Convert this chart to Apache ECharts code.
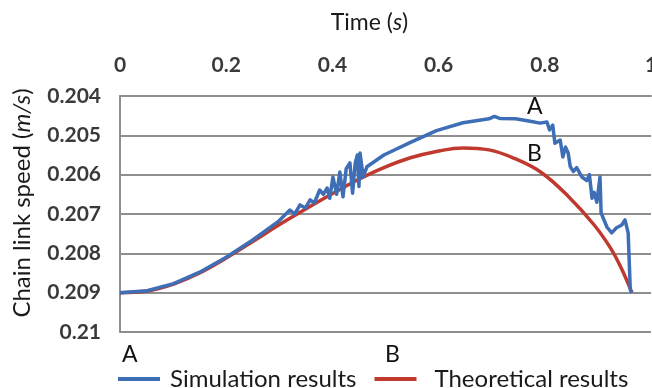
<!DOCTYPE html>
<html>
<head>
<meta charset="utf-8">
<script src="https://cdn.jsdelivr.net/npm/echarts@6/dist/echarts.min.js"></script>
<style>
  html, body { margin: 0; padding: 0; background: #fff; }
  #chart { width: 652px; height: 388px; }
</style>
</head>
<body>
<div id="chart"></div>
<script>
// Time (s) and chain link speed (m/s) samples
var simTime = [0, 0.051, 0.101, 0.150, 0.200, 0.250, 0.299, 0.320, 0.329, 0.339, 0.349, 0.358, 0.366, 0.376, 0.383, 0.390, 0.395, 0.401, 0.408, 0.414, 0.420, 0.426, 0.433, 0.438, 0.443, 0.447, 0.450, 0.452, 0.458, 0.465, 0.497, 0.547, 0.596, 0.646, 0.695, 0.705, 0.715, 0.745, 0.775, 0.791, 0.804, 0.809, 0.815, 0.819, 0.829, 0.834, 0.839, 0.844, 0.848, 0.854, 0.860, 0.870, 0.879, 0.884, 0.889, 0.893, 0.898, 0.904, 0.906, 0.917, 0.926, 0.935, 0.945, 0.951, 0.957, 0.961, 0.964];
var simSpeed = [0.2090, 0.20895, 0.20877, 0.20848, 0.20810, 0.20766, 0.20718, 0.20690, 0.20700, 0.20677, 0.20685, 0.20664, 0.20672, 0.20639, 0.20650, 0.20634, 0.20660, 0.20606, 0.20650, 0.20593, 0.20656, 0.20585, 0.20570, 0.20647, 0.20570, 0.20550, 0.20630, 0.20545, 0.20606, 0.20580, 0.20550, 0.20518, 0.20488, 0.20468, 0.20458, 0.20452, 0.20457, 0.20458, 0.20465, 0.20469, 0.20466, 0.20486, 0.20474, 0.20520, 0.20512, 0.20555, 0.20530, 0.20545, 0.20580, 0.20592, 0.20582, 0.20606, 0.20615, 0.20600, 0.20660, 0.20645, 0.20670, 0.20606, 0.20697, 0.20733, 0.20748, 0.20735, 0.20728, 0.20715, 0.20748, 0.20893, 0.20900];

var theoTime = [0, 0.051, 0.101, 0.150, 0.200, 0.250, 0.299, 0.349, 0.398, 0.448, 0.497, 0.547, 0.596, 0.646, 0.695, 0.745, 0.794, 0.844, 0.893, 0.923, 0.943, 0.964];
var theoSpeed = [0.2090, 0.20896, 0.20878, 0.20850, 0.20812, 0.20770, 0.20728, 0.20688, 0.20650, 0.20613, 0.20582, 0.20557, 0.20541, 0.20532, 0.20537, 0.20560, 0.20595, 0.20655, 0.20728, 0.20785, 0.20835, 0.20900];

var timeTicks = [0, 0.2, 0.4, 0.6, 0.8, 1];
var speedTicks = [0.204, 0.205, 0.206, 0.207, 0.208, 0.209, 0.21];

var seriesNames = ['Simulation results', 'Theoretical results'];
var markLetters = ['A', 'B'];

function pairs(xs, ys) {
  return xs.map(function (x, i) { return [x, ys[i]]; });
}

var font = 'Lato, "Open Sans", sans-serif';
var gridColor = '#8e8e8e';
var textColor = '#1a1a1a';
var tickColor = '#3a3a3a';

var chart = echarts.init(document.getElementById('chart'), null, { renderer: 'canvas' });

chart.setOption({
  animation: false,
  backgroundColor: '#ffffff',
  grid: { left: 120, right: 1, top: 96, bottom: 56, containLabel: false, outerBoundsMode: 'none' },
  xAxis: {
    type: 'value',
    position: 'top',
    min: timeTicks[0],
    max: timeTicks[timeTicks.length - 1],
    interval: 0.2,
    name: '{n|Time (}{i|s}{n|)}',
    nameLocation: 'middle',
    nameGap: 62,
    nameTextStyle: {
      padding: [0, 32, 0, 0],
      rich: {
        n: { fontFamily: font, fontSize: 23, color: textColor },
        i: { fontFamily: font, fontSize: 23, color: textColor, fontStyle: 'italic' }
      }
    },
    axisLine: { show: true, lineStyle: { color: gridColor, width: 2 } },
    axisTick: { show: false },
    splitLine: { show: false },
    axisLabel: {
      margin: 20,
      hideOverlap: false,
      alignMinLabel: 'center',
      alignMaxLabel: 'center',
      fontFamily: font, fontSize: 21, fontWeight: 'bold', color: tickColor,
      formatter: function (v) { return String(parseFloat(v.toFixed(1))); }
    }
  },
  yAxis: {
    type: 'value',
    inverse: true,
    min: speedTicks[0],
    max: speedTicks[speedTicks.length - 1],
    interval: 0.001,
    name: '{n|Chain link speed (}{i|m/s}{n|)}',
    nameLocation: 'middle',
    nameGap: 86,
    nameRotate: 90,
    nameTextStyle: {
      padding: [0, 0, 0, 22],
      rich: {
        n: { fontFamily: font, fontSize: 24, color: textColor },
        i: { fontFamily: font, fontSize: 24, color: textColor, fontStyle: 'italic' }
      }
    },
    axisLine: { show: true, lineStyle: { color: gridColor, width: 2 } },
    axisTick: { show: false },
    splitLine: { show: true, lineStyle: { color: gridColor, width: 2 } },
    axisLabel: {
      margin: 19,
      fontFamily: font, fontSize: 21, fontWeight: 'bold', color: tickColor,
      formatter: function (v) { return String(parseFloat(v.toFixed(3))); }
    }
  },
  legend: {
    left: 113,
    top: 362,
    itemWidth: 42,
    itemHeight: 4,
    itemGap: 18,
    icon: 'rect',
    formatter: function (name) {
      return name === seriesNames[0] ? '{a|' + name + '}' : '{b|' + name + '}';
    },
    textStyle: {
      fontFamily: font, fontSize: 24, color: textColor,
      rich: {
        a: { fontFamily: font, fontSize: 24, color: textColor, padding: [0, 0, 0, 5] },
        b: { fontFamily: font, fontSize: 24, color: textColor, padding: [0, 0, 0, 13] }
      }
    },
    data: seriesNames
  },
  series: [
    {
      name: seriesNames[0],
      type: 'line',
      data: pairs(simTime, simSpeed),
      showSymbol: false,
      symbol: 'none',
      z: 3,
      lineStyle: { color: '#3d6eb6', width: 3.5, join: 'round' },
      itemStyle: { color: '#3d6eb6' }
    },
    {
      name: seriesNames[1],
      type: 'line',
      data: pairs(theoTime, theoSpeed),
      smooth: 0.4,
      showSymbol: false,
      symbol: 'none',
      z: 2,
      lineStyle: { color: '#c0392f', width: 3.5 },
      itemStyle: { color: '#c0392f' }
    }
  ],
  graphic: [
    { type: 'text', left: 527, top: 95, style: { text: markLetters[0], font: '23px ' + font, fill: '#111' } },
    { type: 'text', left: 527, top: 142, style: { text: markLetters[1], font: '23px ' + font, fill: '#111' } },
    { type: 'text', left: 122, top: 343, style: { text: markLetters[0], font: '23px ' + font, fill: '#111' } },
    { type: 'text', left: 385, top: 343, style: { text: markLetters[1], font: '23px ' + font, fill: '#111' } }
  ]
});
</script>
</body>
</html>
